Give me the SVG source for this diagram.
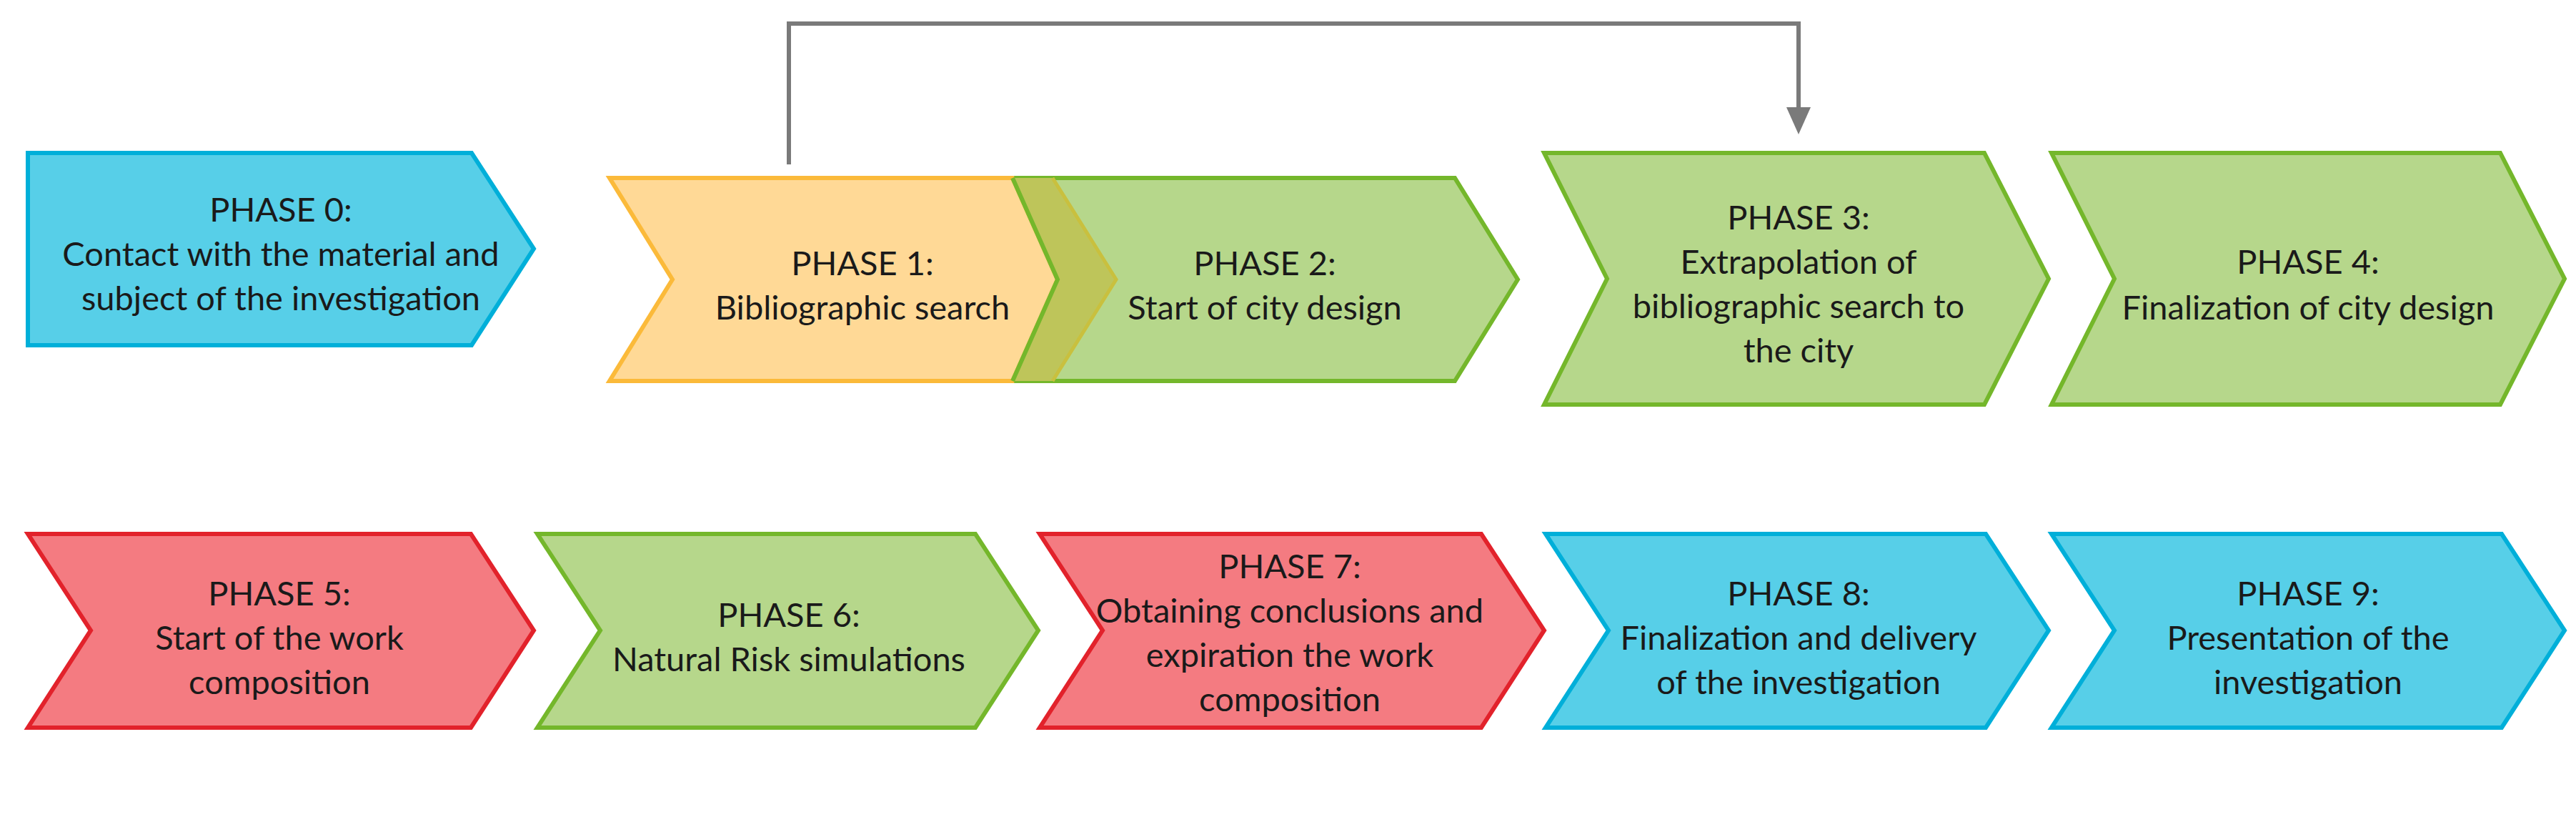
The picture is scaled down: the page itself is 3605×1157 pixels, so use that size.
<svg xmlns="http://www.w3.org/2000/svg" width="3605" height="1157" viewBox="0 0 3605 1157">
<defs>
<style>
.b{fill:#57cfe8;stroke:#00afd9;stroke-width:6;stroke-linejoin:miter}
.y{fill:#ffd996;stroke:#fbba3a;stroke-width:6}
.g{fill:#b6d78b;stroke:#74b72b;stroke-width:6}
.r{fill:#f47b81;stroke:#e2222b;stroke-width:6}
text{font-family:Lato,"Liberation Sans",sans-serif;font-size:47px;fill:#1a1a1a;text-anchor:middle}
.c{fill:none;stroke:#7a7a7a;stroke-width:6}
</style>
</defs>
<g id="connectors">
<path class="c" d="M1104,230 L1104,33 L2517,33 L2517,150"/>
<path d="M2500,150 L2534,150 L2517,188 Z" fill="#7a7a7a"/>
</g>
<g id="phase0"><path class="b" d="M39,214 L660,214 L747,348 L660,483 L39,483 Z"/>
<text x="393" y="310">PHASE 0:</text><text x="393" y="372">Contact with the material and</text><text x="393" y="434">subject of the investigation</text></g>
<g id="phase2"><path class="g" d="M1417,249 L2036,249 L2124,391 L2036,533 L1417,533 L1480,391 Z"/>
<text x="1770" y="385">PHASE 2:</text><text x="1770" y="447">Start of city design</text></g>
<g id="phase1"><path class="y" d="M853,249 L1417,249 L1480,391 L1417,533 L853,533 L941,391 Z"/>
<path d="M1417,249 L1473,249 L1562,391 L1473,533 L1417,533 L1480,391 Z" fill="#bec55a"/>
<path d="M1473,249 L1562,391 L1473,533" fill="none" stroke="#c9c03e" stroke-width="5"/>
<path d="M1417,249 L1480,391 L1417,533" fill="none" stroke="#74b72b" stroke-width="6"/>
<text x="1207" y="385">PHASE 1:</text><text x="1207" y="447">Bibliographic search</text></g>
<g id="phase3"><path class="g" d="M2161,214 L2777,214 L2867,390 L2777,566 L2161,566 L2249,390 Z"/>
<text x="2517" y="321">PHASE 3:</text><text x="2517" y="383">Extrapolation of</text><text x="2517" y="445">bibliographic search to</text><text x="2517" y="507">the city</text></g>
<g id="phase4"><path class="g" d="M2871,214 L3499,214 L3589,390 L3499,566 L2871,566 L2959,390 Z"/>
<text x="3230" y="383">PHASE 4:</text><text x="3230" y="447">Finalization of city design</text></g>
<g id="phase5"><path class="r" d="M39,747 L659,747 L747,882 L659,1018 L39,1018 L127,882 Z"/>
<text x="391" y="847">PHASE 5:</text><text x="391" y="909">Start of the work</text><text x="391" y="971">composition</text></g>
<g id="phase6"><path class="g" d="M752,747 L1365,747 L1453,882 L1365,1018 L752,1018 L840,882 Z"/>
<text x="1104" y="877">PHASE 6:</text><text x="1104" y="939">Natural Risk simulations</text></g>
<g id="phase7"><path class="r" d="M1455,747 L2073,747 L2161,882 L2073,1018 L1455,1018 L1543,882 Z"/>
<text x="1805" y="809">PHASE 7:</text><text x="1805" y="871">Obtaining conclusions and</text><text x="1805" y="933">expiration the work</text><text x="1805" y="995">composition</text></g>
<g id="phase8"><path class="b" d="M2163,747 L2779,747 L2867,882 L2779,1018 L2163,1018 L2251,882 Z"/>
<text x="2517" y="847">PHASE 8:</text><text x="2517" y="909">Finalization and delivery</text><text x="2517" y="971">of the investigation</text></g>
<g id="phase9"><path class="b" d="M2871,747 L3501,747 L3589,882 L3501,1018 L2871,1018 L2959,882 Z"/>
<text x="3230" y="847">PHASE 9:</text><text x="3230" y="909">Presentation of the</text><text x="3230" y="971">investigation</text></g>
</svg>
